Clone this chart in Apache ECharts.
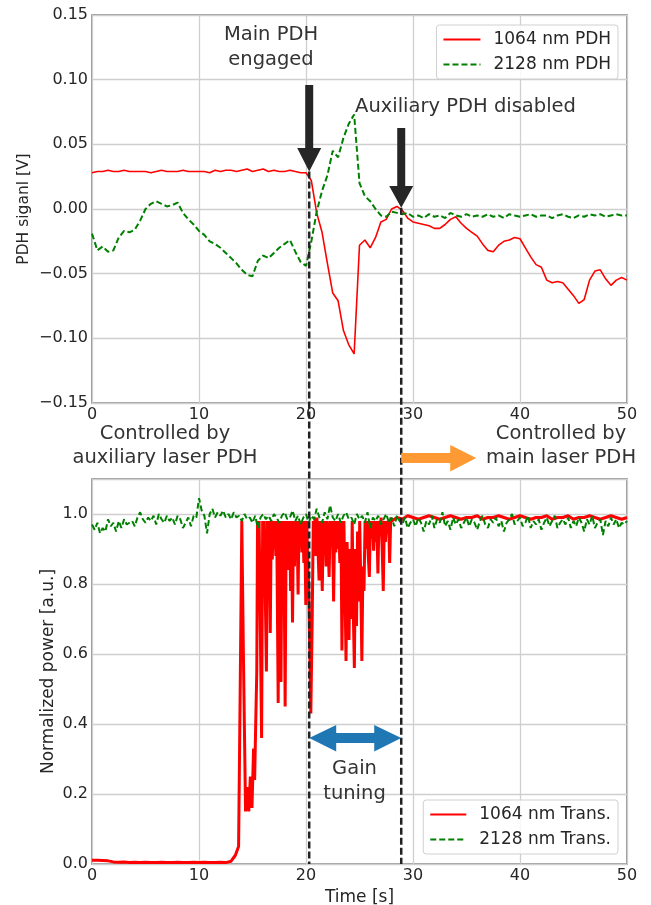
<!DOCTYPE html>
<html>
<head>
<meta charset="utf-8">
<script src="https://cdn.jsdelivr.net/npm/echarts@6/dist/echarts.min.js"></script>
<style>
html, body { margin: 0; padding: 0; background: #fff; }
#chart { width: 651px; height: 905px; }
</style>
</head>
<body>
<div id="chart"></div>
<script>
// ---- top panel: PDH error signals [V], one sample every 0.5 s from t = 0
var pdhStep = 0.5;
var pdh1064 = [
  0.028, 0.029, 0.029, 0.030, 0.029, 0.029, 0.030, 0.029, 0.029, 0.029,
  0.029, 0.028, 0.029, 0.030, 0.029, 0.029, 0.029, 0.030, 0.029, 0.029,
  0.029, 0.029, 0.028, 0.030, 0.029, 0.030, 0.030, 0.029, 0.030, 0.031,
  0.029, 0.030, 0.031, 0.029, 0.030, 0.029, 0.029, 0.030, 0.029, 0.028,
  0.028,
  0.022, -0.003, -0.018, -0.042, -0.065, -0.071, -0.094, -0.105, -0.112, -0.028,
  -0.024, -0.030, -0.022, -0.010, -0.008, 0.000, 0.002, -0.001, -0.007, -0.010,
  -0.011, -0.012, -0.013, -0.015, -0.015, -0.012, -0.008, -0.006, -0.011, -0.015,
  -0.018, -0.021, -0.027, -0.032, -0.033, -0.028, -0.025, -0.024, -0.022, -0.023,
  -0.030, -0.037, -0.043, -0.045, -0.055, -0.057, -0.056, -0.057, -0.062, -0.067,
  -0.073, -0.070, -0.055, -0.048, -0.047, -0.054, -0.059, -0.055, -0.053, -0.055
];
var pdh2128 = [
  -0.019, -0.032, -0.029, -0.033, -0.032, -0.022, -0.017, -0.018, -0.016, -0.009,
  0.000, 0.004, 0.006, 0.004, 0.002, 0.003, 0.005, -0.003, -0.008, -0.012,
  -0.017, -0.020, -0.025, -0.027, -0.030, -0.034, -0.038, -0.042, -0.047, -0.051,
  -0.052, -0.040, -0.036, -0.038, -0.034, -0.030, -0.027, -0.024, -0.033, -0.041,
  -0.044, -0.025, -0.002, 0.014, 0.026, 0.045, 0.040, 0.055, 0.066, 0.073,
  0.020, 0.010, 0.006, 0.000, -0.005, -0.006, -0.002, -0.003, -0.004, -0.003,
  -0.006,
  -0.005, -0.007, -0.004, -0.006, -0.005, -0.007, -0.003, -0.005, -0.006, -0.004,
  -0.006, -0.005, -0.006, -0.004, -0.006, -0.005, -0.007, -0.004, -0.005, -0.006,
  -0.005, -0.004, -0.006, -0.005, -0.005, -0.007, -0.005, -0.004, -0.006, -0.007,
  -0.005, -0.006, -0.004, -0.005, -0.004, -0.006, -0.005, -0.004, -0.005, -0.005
];

// ---- bottom panel: normalized transmitted power [a.u.]
// 1064 nm transmission as [t, value] samples (irregular, dense where it flickers)
var trans1064Pts = [
  [0, 0.011], [0.5, 0.011], [1, 0.010], [1.5, 0.009], [2, 0.006], [2.5, 0.005], [3, 0.006], [3.5, 0.004],
  [4, 0.005], [4.5, 0.004], [5, 0.005], [5.5, 0.004], [6, 0.004], [6.5, 0.005], [7, 0.004], [7.5, 0.004],
  [8, 0.005], [8.5, 0.004], [9, 0.004], [9.5, 0.005], [10, 0.004], [10.5, 0.005], [11, 0.004], [11.5, 0.004],
  [12, 0.005], [12.5, 0.004], [13, 0.008], [13.4, 0.025], [13.7, 0.050],
  [13.85, 0.50], [14.0, 0.98], [14.15, 0.60], [14.35, 0.15], [14.5, 0.22], [14.65, 0.15], [14.8, 0.25],
  [14.95, 0.16], [15.1, 0.33], [15.2, 0.24], [15.3, 0.40], [15.4, 0.55],
  [15.47, 0.98], [15.55, 0.93], [15.62, 0.98], [15.72, 0.70], [15.85, 0.36], [15.95, 0.98], [16.03, 0.90],
  [16.10, 0.98], [16.18, 0.80], [16.30, 0.55], [16.40, 0.98], [16.48, 0.85], [16.56, 0.98], [16.66, 0.66],
  [16.75, 0.98], [16.85, 0.87], [16.93, 0.98], [17.02, 0.90], [17.10, 0.98], [17.18, 0.88], [17.26, 0.98],
  [17.40, 0.46], [17.50, 0.98], [17.58, 0.85], [17.66, 0.52], [17.76, 0.98], [17.84, 0.90], [17.92, 0.98],
  [18.05, 0.45], [18.15, 0.98], [18.23, 0.92], [18.31, 0.98], [18.40, 0.84], [18.48, 0.98], [18.56, 0.78],
  [18.64, 0.98], [18.74, 0.69], [18.83, 0.98], [18.92, 0.85], [19.00, 0.98], [19.08, 0.88], [19.16, 0.98],
  [19.26, 0.77], [19.35, 0.98], [19.43, 0.91], [19.52, 0.98], [19.62, 0.89], [19.70, 0.98], [19.80, 0.86],
  [19.88, 0.98], [19.98, 0.74], [20.08, 0.98], [20.17, 0.84], [20.25, 0.80], [20.45, 0.43], [20.58, 0.70],
  [20.68, 0.98], [20.76, 0.91], [20.84, 0.99], [20.93, 0.88], [21.02, 0.99], [21.12, 0.90], [21.22, 0.81],
  [21.32, 0.98], [21.42, 0.93], [21.52, 0.78], [21.62, 0.98], [21.70, 0.90], [21.78, 0.98], [21.88, 0.85],
  [21.96, 0.98], [22.06, 0.92], [22.16, 0.82], [22.26, 0.98], [22.36, 0.91], [22.46, 0.98], [22.58, 0.75],
  [22.68, 0.98], [22.78, 0.89], [22.86, 0.98], [22.96, 0.90], [23.06, 0.98], [23.16, 0.86], [23.26, 0.98],
  [23.36, 0.61], [23.46, 0.90], [23.54, 0.98], [23.64, 0.80], [23.74, 0.58], [23.84, 0.92], [23.92, 0.80],
  [24.02, 0.64], [24.12, 0.90], [24.22, 0.70], [24.32, 0.98], [24.42, 0.72], [24.52, 0.56], [24.62, 0.90],
  [24.72, 0.68], [24.82, 0.95], [24.92, 0.75], [25.02, 0.98], [25.12, 0.80], [25.22, 0.58], [25.32, 0.85],
  [25.42, 0.78], [25.52, 0.98], [25.62, 0.90], [25.72, 0.98], [25.82, 0.88], [25.92, 0.82], [26.02, 0.98],
  [26.12, 0.93], [26.22, 0.98], [26.32, 0.895], [26.42, 0.98], [26.52, 0.92], [26.62, 0.98], [26.72, 0.83],
  [26.82, 0.98], [26.92, 0.94], [27.02, 0.99], [27.12, 0.90], [27.22, 0.78], [27.32, 0.98], [27.42, 0.92],
  [27.52, 0.98], [27.62, 0.95], [27.72, 0.98], [27.82, 0.86], [27.92, 0.99], [28.0, 0.98],
  [28.5, 0.99], [29, 0.985], [29.5, 0.995], [30, 0.99], [30.5, 0.985], [31, 0.99], [31.5, 0.995], [32, 0.99],
  [32.5, 0.985], [33, 0.99], [33.5, 0.995], [34, 0.99], [34.5, 0.985], [35, 0.99], [35.5, 0.99], [36, 0.995],
  [36.5, 0.985], [37, 0.99], [37.5, 0.99], [38, 0.995], [38.5, 0.99], [39, 0.985], [39.5, 0.99], [40, 0.995],
  [40.5, 0.99], [41, 0.985], [41.5, 0.99], [42, 0.99], [42.5, 0.995], [43, 0.985], [43.5, 0.99], [44, 0.99],
  [44.5, 0.995], [45, 0.985], [45.5, 0.99], [46, 0.99], [46.5, 0.995], [47, 0.99], [47.5, 0.985], [48, 0.99],
  [48.5, 0.995], [49, 0.99], [49.5, 0.985], [50, 0.99]
];
// 2128 nm transmission, one sample every 0.25 s from t = 0
var trans2128Step = 0.25;
var trans2128 = [
  0.970, 0.955, 0.975, 0.945, 0.960, 0.950, 0.985, 0.965, 0.975, 0.950, 0.980, 0.960, 0.985, 0.970, 0.975, 0.980, 0.965, 0.990, 1.005, 0.985,
  0.975, 0.990, 0.980, 0.995, 0.970, 1.000, 0.985, 0.975, 0.995, 0.980, 0.990, 0.970, 0.995, 0.985, 0.960, 0.975, 0.990, 0.965, 0.995, 0.990,
  1.045, 1.010, 0.995, 0.945, 1.000, 1.015, 0.990, 1.005, 0.995, 1.010, 0.990, 1.000, 0.985, 1.005, 0.990, 0.995, 0.980, 1.000, 0.985, 0.990,
  0.975, 0.995, 0.960, 0.990, 1.000, 0.985, 0.995, 0.980, 1.000, 0.990, 0.975, 0.995, 1.005, 0.985, 0.990, 1.010, 0.980, 0.995, 0.970, 0.990,
  1.000, 0.975, 0.995, 0.985, 1.015, 0.990, 0.975, 1.005, 0.985, 1.025, 0.990, 0.980, 1.000, 0.975, 0.995, 1.005, 0.985, 0.990, 0.970, 1.000,
  0.985, 0.995, 0.975, 1.005, 0.960, 0.990, 0.980, 0.995, 0.970, 0.985, 1.000, 0.975, 0.990, 0.965, 0.995, 0.980, 0.970, 0.990, 0.960, 0.975,
  0.985, 0.965, 0.990, 0.975, 0.950, 0.980, 0.970, 0.995, 0.960, 0.985, 0.975, 1.005, 0.965, 0.980, 0.955, 0.990, 0.970, 0.985, 0.960, 0.975,
  0.990, 0.965, 0.985, 0.975, 0.955, 0.980, 0.995, 0.970, 0.960, 0.985, 0.975, 0.990, 0.965, 0.980, 0.950, 0.975, 0.985, 1.000, 0.970, 0.980,
  0.990, 0.965, 0.975, 0.995, 0.960, 0.980, 0.970, 0.985, 0.955, 0.975, 0.990, 0.965, 0.980, 0.995, 0.960, 0.975, 0.985, 0.970, 0.990, 0.960,
  0.980, 0.965, 0.990, 0.975, 0.950, 0.985, 0.970, 0.995, 0.960, 0.975, 0.985, 0.940, 0.980, 0.965, 0.990, 0.970, 0.985, 0.960, 0.975, 0.970,
  0.980
];

// event times [s]
var mainEngagedT = 20.3;
var auxDisabledT = 28.9;

function stepPairs(step, vals) {
  return vals.map(function (v, i) { return [+(i * step).toFixed(2), v]; });
}

var FONT = 'DejaVu Sans';
var TXT = '#262626';
var NOTE = '#333333';

function xAxisOf(grid, withName) {
  var ax = {
    type: 'value', gridIndex: grid, min: 0, max: 50, interval: 10,
    axisLine: { show: false }, axisTick: { show: false },
    axisLabel: { color: TXT, fontSize: 16, fontFamily: FONT, margin: 4, showMinLabel: true, showMaxLabel: true },
    splitLine: { show: true, lineStyle: { color: '#cfcfcf', width: 1.3 } }
  };
  if (withName) {
    ax.name = 'Time [s]';
    ax.nameLocation = 'middle';
    ax.nameGap = 25;
    ax.nameMoveOverlap = false;
    ax.nameTextStyle = { color: TXT, fontSize: 17, fontFamily: FONT };
  }
  return ax;
}

function legendOf(names, top, iconW) {
  return {
    data: names,
    orient: 'vertical', right: 33, top: top,
    padding: [6, 7, 6, 6], itemGap: 8, itemWidth: iconW, itemHeight: 14,
    itemStyle: { opacity: 0, borderWidth: 0 },
    backgroundColor: 'rgba(255,255,255,0.85)', borderColor: '#d0d0d0', borderWidth: 1, borderRadius: 3,
    textStyle: { color: TXT, fontSize: 17, fontFamily: FONT, lineHeight: 17, padding: [0, 0, 0, 8] }
  };
}

var chart = echarts.init(document.getElementById('chart'), null, { renderer: 'canvas' });

var option = {
  animation: false,
  backgroundColor: '#fff',
  grid: [
    { left: 92, right: 24, top: 15, height: 388, show: true, borderColor: '#7f7f7f', borderWidth: 1.6, backgroundColor: 'transparent', containLabel: false, outerBoundsMode: 'none' },
    { left: 92, right: 24, top: 479, height: 385, show: true, borderColor: '#7f7f7f', borderWidth: 1.6, backgroundColor: 'transparent', containLabel: false, outerBoundsMode: 'none' }
  ],
  xAxis: [xAxisOf(0, false), xAxisOf(1, true)],
  yAxis: [
    {
      type: 'value', gridIndex: 0, min: -0.15, max: 0.15, interval: 0.05,
      name: 'PDH siganl [V]', nameLocation: 'middle', nameGap: 60, nameRotate: 90, nameMoveOverlap: false,
      nameTextStyle: { color: TXT, fontSize: 15.5, fontFamily: FONT },
      axisLine: { show: false }, axisTick: { show: false },
      axisLabel: {
        color: TXT, fontSize: 16, fontFamily: FONT, margin: 4,
        formatter: function (v) {
          if (Math.abs(v) < 1e-9) return '0.00';
          return (v < 0 ? '\u2212' : '') + Math.abs(v).toFixed(2);
        }
      },
      splitLine: { show: true, lineStyle: { color: '#cfcfcf', width: 1.3 } }
    },
    {
      type: 'value', gridIndex: 1, min: 0, max: 1.1, interval: 0.2,
      name: 'Normalized power [a.u.]', nameLocation: 'middle', nameGap: 35, nameRotate: 90, nameMoveOverlap: false,
      nameTextStyle: { color: TXT, fontSize: 17, fontFamily: FONT },
      axisLine: { show: false }, axisTick: { show: false },
      axisLabel: {
        color: TXT, fontSize: 16, fontFamily: FONT, margin: 4, showMaxLabel: false,
        formatter: function (v) { return v > 1.05 ? '' : v.toFixed(1); }
      },
      splitLine: { show: true, lineStyle: { color: '#cfcfcf', width: 1.3 } }
    }
  ],
  legend: [
    legendOf(['1064 nm PDH', '2128 nm PDH'], 25, 37),
    legendOf(['1064 nm Trans.', '2128 nm Trans.'], 800, 36)
  ],
  series: [
    {
      name: '1064 nm PDH', type: 'line', xAxisIndex: 0, yAxisIndex: 0,
      data: stepPairs(pdhStep, pdh1064), symbol: 'none', smooth: false,
      lineStyle: { color: '#ff0000', width: 1.6 }, itemStyle: { color: '#ff0000' }
    },
    {
      name: '2128 nm PDH', type: 'line', xAxisIndex: 0, yAxisIndex: 0,
      data: stepPairs(pdhStep, pdh2128), symbol: 'none', smooth: false,
      lineStyle: { color: '#008000', width: 2, type: [6, 3] }, itemStyle: { color: '#008000' }
    },
    {
      name: '1064 nm Trans.', type: 'line', xAxisIndex: 1, yAxisIndex: 1,
      data: trans1064Pts, symbol: 'none', smooth: false,
      lineStyle: { color: '#ff0000', width: 3 }, itemStyle: { color: '#ff0000' }
    },
    {
      name: '2128 nm Trans.', type: 'line', xAxisIndex: 1, yAxisIndex: 1,
      data: stepPairs(trans2128Step, trans2128), symbol: 'none', smooth: false,
      lineStyle: { color: '#008000', width: 2, type: [6, 3] }, itemStyle: { color: '#008000' }
    }
  ]
};

chart.setOption(option);

// annotations placed from the axes' own coordinate system
var x1 = chart.convertToPixel({ gridIndex: 0 }, [mainEngagedT, 0])[0];
var x2 = chart.convertToPixel({ gridIndex: 0 }, [auxDisabledT, 0])[0];
var tip1 = chart.convertToPixel({ gridIndex: 0 }, [mainEngagedT, 0.029])[1];
var tip2 = chart.convertToPixel({ gridIndex: 0 }, [auxDisabledT, 0.001])[1];
var yBottom = chart.convertToPixel({ gridIndex: 1 }, [0, 0])[1];

function note(text, x, y, lh) {
  return {
    type: 'text', z: 100, silent: true,
    style: { text: text, x: x, y: y, align: 'center', verticalAlign: 'middle', fill: NOTE, fontSize: 19.5, fontFamily: FONT, lineHeight: lh || 25 }
  };
}
function vline(x, y0) {
  return {
    type: 'line', z: 90, silent: true,
    shape: { x1: x, y1: y0, x2: x, y2: yBottom },
    style: { stroke: '#222', lineWidth: 2.5, lineDash: [7, 3] }
  };
}
function downArrow(x, top, headTop, tip) {
  return {
    type: 'polygon', z: 95, silent: true,
    shape: { points: [[x - 4, top], [x + 4, top], [x + 4, headTop], [x + 12, headTop], [x, tip], [x - 12, headTop], [x - 4, headTop]] },
    style: { fill: '#262626' }
  };
}

chart.setOption({
  graphic: [
    vline(x1, tip1),
    vline(x2, tip2),
    downArrow(x1, 85, 148, tip1),
    downArrow(x2, 128, 186, tip2),
    {
      type: 'polygon', z: 95, silent: true,
      shape: { points: [[x2, 453], [x2 + 49, 453], [x2 + 49, 445], [x2 + 75, 458], [x2 + 49, 471.5], [x2 + 49, 463], [x2, 463]] },
      style: { fill: '#ff9933' }
    },
    {
      type: 'polygon', z: 95, silent: true,
      shape: { points: [[x1, 738], [x1 + 27, 725], [x1 + 27, 733], [x2 - 27, 733], [x2 - 27, 725], [x2, 738], [x2 - 27, 751.5], [x2 - 27, 743], [x1 + 27, 743], [x1 + 27, 751.5]] },
      style: { fill: '#1f77b4' }
    },
    note('Main PDH\nengaged', 271, 47.5),
    note('Auxiliary PDH disabled', 465.5, 106.5),
    note('Controlled by\nauxiliary laser PDH', 165, 446, 24),
    note('Controlled by\nmain laser PDH', 561, 446, 24),
    note('Gain\ntuning', 354.5, 781)
  ]
});
</script>
</body>
</html>
